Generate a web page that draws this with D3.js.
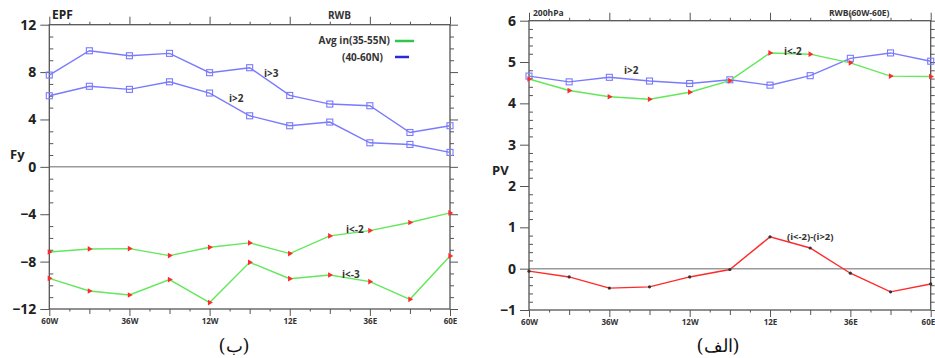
<!DOCTYPE html>
<html><head><meta charset="utf-8">
<script src="https://cdn.jsdelivr.net/npm/d3@7"></script>
<style>
body{margin:0;background:#fff;}
svg text{font-family:"Open Sans","Noto Sans",sans-serif;}
</style></head>
<body><svg id="c" width="935" height="358"></svg>
<script>
// ---- data ----
const lons = [-60,-48,-36,-24,-12,0,12,24,36,48,60];
const xTickVals = [-60,-36,-12,12,36,60];
const xTickLabels = ["60W","36W","12W","12E","36E","60E"];

// Left panel (EPF, Fy)
const fyTicks = [-12,-8,-4,0,4,8,12];
const fyGt3 = [7.75,9.8,9.38,9.58,7.95,8.37,6.03,5.3,5.16,2.9,3.47];
const fyGt2 = [6.0,6.8,6.54,7.18,6.23,4.31,3.47,3.78,2.03,1.89,1.22];
const fyLtM2 = [-7.19,-6.93,-6.9,-7.49,-6.79,-6.42,-7.32,-5.83,-5.38,-4.7,-3.89];
const fyLtM3 = [-9.41,-10.48,-10.82,-9.52,-11.46,-8.06,-9.44,-9.13,-9.69,-11.18,-7.52];

// Right panel (PV 200hPa)
const pvTicks = [-1,0,1,2,3,4,5,6];
const pvGt2 = [4.66,4.52,4.63,4.54,4.48,4.57,4.44,4.67,5.09,5.22,5.02];
const pvLtM2 = [4.59,4.31,4.16,4.10,4.27,4.55,5.22,5.19,4.98,4.66,4.65];
const pvDiff = [-0.06,-0.2,-0.47,-0.44,-0.2,-0.02,0.77,0.5,-0.11,-0.56,-0.37];

const BLUE="#7a7aff", GREEN="#62e85a", RED="#ff2a2a", AX="#555";
const svg = d3.select("#c");

function panel(cfg){
  const g = svg.append("g");
  const x = d3.scaleLinear().domain([-60,60]).range([cfg.x0,cfg.x1]);
  const y = d3.scaleLinear().domain(cfg.ydom).range([cfg.y1,cfg.y0]);
  const minor6 = d3.range(-60,61,6).filter(v=>v%12!==0);
  const mid12 = d3.range(-60,61,12).filter(v=>!xTickVals.includes(v));
  g.append("line").attr("x1",cfg.x0).attr("x2",cfg.x1).attr("y1",y(0)).attr("y2",y(0))
    .attr("stroke","#9a9a9a").attr("stroke-width",1.5);
  g.append("rect").attr("x",cfg.x0).attr("y",cfg.y0).attr("width",cfg.x1-cfg.x0).attr("height",cfg.y1-cfg.y0)
    .attr("fill","none").attr("stroke",AX).attr("stroke-width",1.3);
  const bot = g.append("g").attr("transform",`translate(0,${cfg.y1})`)
    .call(d3.axisBottom(x).tickValues(xTickVals).tickFormat((d,i)=>xTickLabels[i]).tickSize(7).tickPadding(2));
  bot.select(".domain").remove();
  bot.selectAll("line").attr("stroke",AX);
  bot.selectAll("text").attr("font-size",8).attr("font-weight","bold").attr("fill","#333");
  if(cfg.clipLast){
    bot.selectAll("text").filter(d=>d===60).attr("text-anchor","end").attr("dx",4);
  }
  const botMinor = g.append("g").attr("transform",`translate(0,${cfg.y1})`)
    .call(d3.axisBottom(x).tickValues(mid12).tickSize(5).tickFormat(""));
  botMinor.select(".domain").remove(); botMinor.selectAll("line").attr("stroke",AX);
  const botMinor2 = g.append("g").attr("transform",`translate(0,${cfg.y1})`)
    .call(d3.axisBottom(x).tickValues(minor6).tickSize(2.5).tickFormat(""));
  botMinor2.select(".domain").remove(); botMinor2.selectAll("line").attr("stroke",AX);
  const top = g.append("g").attr("transform",`translate(0,${cfg.y0})`)
    .call(d3.axisTop(x).tickValues(xTickVals).tickSize(8).tickFormat(""));
  top.select(".domain").remove(); top.selectAll("line").attr("stroke",AX);
  const topM = g.append("g").attr("transform",`translate(0,${cfg.y0})`)
    .call(d3.axisTop(x).tickValues(mid12).tickSize(3).tickFormat(""));
  topM.select(".domain").remove(); topM.selectAll("line").attr("stroke",AX);
  const topM2 = g.append("g").attr("transform",`translate(0,${cfg.y0})`)
    .call(d3.axisTop(x).tickValues(minor6).tickSize(2).tickFormat(""));
  topM2.select(".domain").remove(); topM2.selectAll("line").attr("stroke",AX);
  const left = g.append("g").attr("transform",`translate(${cfg.x0},0)`)
    .call(d3.axisLeft(y).tickValues(cfg.yticks).tickFormat(d3.format("d")).tickSize(9).tickPadding(4));
  left.select(".domain").remove(); left.selectAll("line").attr("stroke",AX);
  left.selectAll("text").attr("font-size",14).attr("font-weight","bold").attr("fill","#222");
  const minorY = d3.range(cfg.ydom[0],cfg.ydom[1]+1e-9,cfg.minorStep).filter(v=>!cfg.yticks.some(t=>Math.abs(t-v)<1e-6));
  const leftM = g.append("g").attr("transform",`translate(${cfg.x0},0)`)
    .call(d3.axisRight(y).tickValues(minorY).tickSize(4).tickFormat(""));
  leftM.select(".domain").remove(); leftM.selectAll("line").attr("stroke",AX);
  const right = g.append("g").attr("transform",`translate(${cfg.x1},0)`)
    .call(d3.axisRight(y).tickValues(cfg.yticks).tickSize(8).tickFormat(""));
  right.select(".domain").remove(); right.selectAll("line").attr("stroke",AX);
  const rightM = g.append("g").attr("transform",`translate(${cfg.x1},0)`)
    .call(d3.axisRight(y).tickValues(minorY).tickSize(4).tickFormat(""));
  rightM.select(".domain").remove(); rightM.selectAll("line").attr("stroke",AX);
  return {g,x,y};
}

function series(p, vals, color, marker, mcolor){
  const line = d3.line().x((d,i)=>p.x(lons[i])).y(d=>p.y(d));
  p.g.append("path").attr("d",line(vals)).attr("fill","none").attr("stroke",color).attr("stroke-width",1.4);
  const pts = p.g.append("g").selectAll("g").data(vals).join("g")
    .attr("transform",(d,i)=>`translate(${p.x(lons[i])},${p.y(d)})`);
  if(marker==="square"){
    pts.append("rect").attr("x",-3).attr("y",-3).attr("width",6).attr("height",6)
      .attr("fill","none").attr("stroke",mcolor).attr("stroke-width",1.1);
  } else if(marker==="tri"){
    pts.append("path").attr("d",d3.symbol(d3.symbolTriangle,14)()).attr("transform","rotate(90)").attr("fill",mcolor);
  } else {
    pts.append("circle").attr("r",1.6).attr("fill",mcolor);
  }
}

function label(g,x,y,t,opts={}){
  return g.append("text").attr("x",x).attr("y",y).text(t)
    .attr("font-size",opts.size||10).attr("font-weight","bold").attr("fill",opts.fill||"#333")
    .attr("text-anchor",opts.anchor||"start");
}

// ---- left panel ----
const L = panel({x0:49.3,x1:450,y0:24.7,y1:309,ydom:[-12,12],yticks:fyTicks,minorStep:1});
series(L,fyGt3,BLUE,"square",BLUE);
series(L,fyGt2,BLUE,"square",BLUE);
series(L,fyLtM2,GREEN,"tri",RED);
series(L,fyLtM3,GREEN,"tri",RED);
label(svg,52,19,"EPF",{size:12,fill:"#222"});
label(svg,328,19,"RWB",{size:10});
label(svg,10,159,"Fy",{size:13,fill:"#222"});
label(svg,390,44,"Avg in(35-55N)",{anchor:"end",size:10});
svg.append("line").attr("x1",395).attr("x2",414).attr("y1",41).attr("y2",41).attr("stroke","#2fc64a").attr("stroke-width",2.5);
label(svg,383,61,"(40-60N)",{anchor:"end",size:10});
svg.append("line").attr("x1",395).attr("x2",409).attr("y1",57).attr("y2",57).attr("stroke","#2a2ad8").attr("stroke-width",2.5);
label(svg,264,77,"i>3");
label(svg,229,102,"i>2");
label(svg,346,233,"i<-2");
label(svg,342,278,"i<-3");
svg.append("text").attr("x",234).attr("y",352).attr("text-anchor","middle").attr("font-size",18)
  .style("font-family","'DejaVu Serif','Liberation Serif',serif").attr("fill","#111").text("(ب)");

// ---- right panel ----
const R = panel({x0:529,x1:930.7,y0:20.7,y1:310,ydom:[-1,6],yticks:pvTicks,minorStep:0.2,clipLast:true});
series(R,pvGt2,BLUE,"square",BLUE);
series(R,pvLtM2,GREEN,"tri",RED);
series(R,pvDiff,RED,"dot","#333");
label(svg,533,16,"200hPa",{size:8.5});
label(svg,829,16,"RWB(60W-60E)",{size:8.5});
label(svg,492,175,"PV",{size:13,fill:"#222"});
label(svg,624,74,"i>2");
label(svg,784,55,"i<-2");
label(svg,787,240,"(i<-2)-(i>2)",{size:9.5});
svg.append("text").attr("x",718).attr("y",352).attr("text-anchor","middle").attr("font-size",18)
  .style("font-family","'DejaVu Serif','Liberation Serif',serif").attr("fill","#111").text("(الف)");
</script></body></html>
